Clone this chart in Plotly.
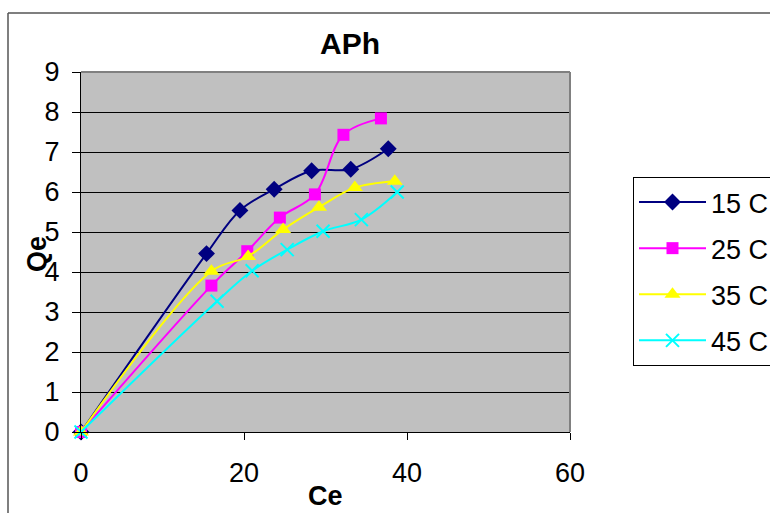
import plotly.graph_objects as go

# Data
ce_15 = [0, 15.4, 19.5, 23.7, 28.3, 33.1, 37.7]
qe_15 = [0, 4.46, 5.54, 6.07, 6.53, 6.57, 7.08]

ce_25 = [0, 16.0, 20.4, 24.4, 28.7, 32.2, 36.8]
qe_25 = [0, 3.66, 4.52, 5.36, 5.94, 7.43, 7.84]

ce_35 = [0, 16.0, 20.5, 24.8, 29.2, 33.6, 38.5]
qe_35 = [0, 4.02, 4.39, 5.06, 5.62, 6.11, 6.27]

ce_45 = [0, 16.7, 21.0, 25.3, 29.7, 34.4, 38.8]
qe_45 = [0, 3.27, 4.03, 4.56, 5.02, 5.31, 6.00]

series_names = ["15 C", "25 C", "35 C", "45 C"]
x_ticks = [0, 20, 40, 60]
y_ticks = list(range(0, 10))

FONT = "Liberation Sans, Arial, sans-serif"

fig = go.Figure()

styles = [
    dict(color="#000080", symbol="diamond", size=13),
    dict(color="#FF00FF", symbol="square", size=12),
    dict(color="#FFFF00", symbol="triangle-up", size=14),
    dict(color="#00FFFF", symbol="x-thin", size=13),
]
data = [(ce_15, qe_15), (ce_25, qe_25), (ce_35, qe_35), (ce_45, qe_45)]

for name, (xs, ys), st in zip(series_names, data, styles):
    marker = dict(symbol=st["symbol"], size=st["size"], color=st["color"])
    if st["symbol"] == "x-thin":
        marker["line"] = dict(color=st["color"], width=2)
    else:
        marker["line"] = dict(width=0)
    fig.add_trace(go.Scatter(
        x=xs, y=ys, name=name, mode="lines+markers",
        line=dict(color=st["color"], width=2, shape="spline", smoothing=1),
        marker=marker, legendgroup=name, cliponaxis=False,
    ))

fig.update_layout(
    width=770, height=513,
    margin=dict(l=81, r=200, t=72, b=81, autoexpand=False),
    paper_bgcolor="white",
    plot_bgcolor="#C0C0C0",
    font=dict(family=FONT, color="black", size=27),
    showlegend=True,
    legend=dict(
        x=(633 - 81) / 489, xanchor="left",
        y=(432 - 177) / 360, yanchor="top",
        bordercolor="black", borderwidth=1, bgcolor="white",
        font=dict(family=FONT, size=27, color="black"),
        tracegroupgap=8, traceorder="grouped",
        itemwidth=67,
    ),
    xaxis=dict(
        range=[0, 60], tickvals=x_ticks, ticks="outside", ticklen=7,
        tickcolor="black", showline=True, linecolor="black", linewidth=1,
        showgrid=False, zeroline=False, ticklabelstandoff=10,
        tickfont=dict(family=FONT, size=27),
    ),
    yaxis=dict(
        range=[0, 9], tickvals=y_ticks, ticks="outside", ticklen=8,
        tickcolor="black", showline=True, linecolor="black", linewidth=1,
        showgrid=True, gridcolor="black", gridwidth=1, zeroline=False,
        ticklabelstandoff=7,
        tickfont=dict(family=FONT, size=27),
    ),
    annotations=[
        dict(text="<b>APh</b>", xref="paper", yref="paper",
             x=(350 - 81) / 489, y=(432 - 43) / 360,
             xanchor="center", yanchor="middle", showarrow=False,
             font=dict(family=FONT, size=30)),
        dict(text="<b>Ce</b>", xref="paper", yref="paper",
             x=(325 - 81) / 489, y=(432 - 496) / 360,
             xanchor="center", yanchor="middle", showarrow=False,
             font=dict(family=FONT, size=27)),
        dict(text="<b>Qe</b>", xref="paper", yref="paper",
             x=(37 - 81) / 489, y=(432 - 254) / 360, textangle=-90,
             xanchor="center", yanchor="middle", showarrow=False,
             font=dict(family=FONT, size=27)),
    ],
    shapes=[
        # plot area top and right border (gray)
        dict(type="line", xref="paper", yref="paper", x0=0, x1=1, y0=1, y1=1,
             line=dict(color="#808080", width=2), layer="above"),
        dict(type="line", xref="paper", yref="paper", x0=1, x1=1, y0=0, y1=1,
             line=dict(color="#808080", width=2), layer="above"),
        # outer chart area border
        dict(type="line", xref="paper", yref="paper",
             x0=(8 - 81) / 489, x1=(790 - 81) / 489,
             y0=(432 - 13) / 360, y1=(432 - 13) / 360,
             line=dict(color="#555555", width=1.5)),
        dict(type="line", xref="paper", yref="paper",
             x0=(8 - 81) / 489, x1=(8 - 81) / 489,
             y0=(432 - 13) / 360, y1=(432 - 530) / 360,
             line=dict(color="#555555", width=1.5)),
    ],
)

fig.write_html("out.html")
